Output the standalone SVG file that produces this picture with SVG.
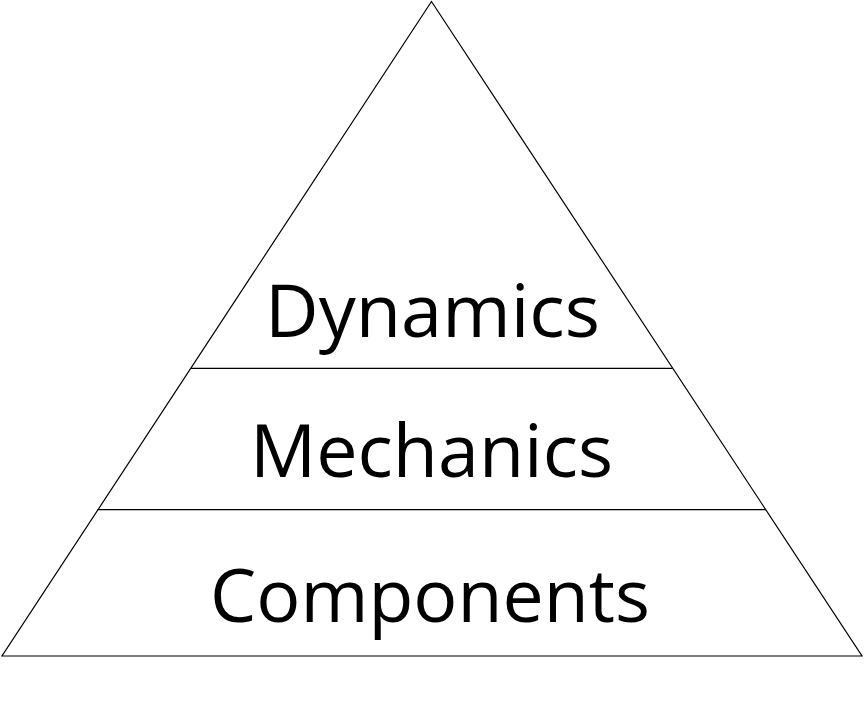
<svg xmlns="http://www.w3.org/2000/svg" width="864" height="701" viewBox="0 0 864 701">
<style>
.edge{fill:none;stroke:#000;stroke-width:1.2}
.lbl{font-family:"Open Sans","Noto Sans","Liberation Sans",sans-serif;font-size:74px;fill:#000;text-anchor:middle}
</style>
<rect width="864" height="701" fill="#fff"/>
<g id="pyramid">
<polygon class="edge" points="431.5,1.5 2,656 862,656"/>
</g>
<g id="connectors">
<line class="edge" x1="191" y1="368.3" x2="672.5" y2="368.3"/>
<line class="edge" x1="97.5" y1="509.7" x2="766" y2="509.7"/>
</g>
<g id="dynamics">
<text class="lbl" x="432.5" y="336.5" textLength="335" lengthAdjust="spacingAndGlyphs">Dynamics</text>
</g>
<g id="mechanics">
<text class="lbl" x="431.5" y="476.5" textLength="363" lengthAdjust="spacingAndGlyphs">Mechanics</text>
</g>
<g id="components">
<text class="lbl" x="430" y="621.5" textLength="440" lengthAdjust="spacingAndGlyphs">Components</text>
</g>
</svg>
